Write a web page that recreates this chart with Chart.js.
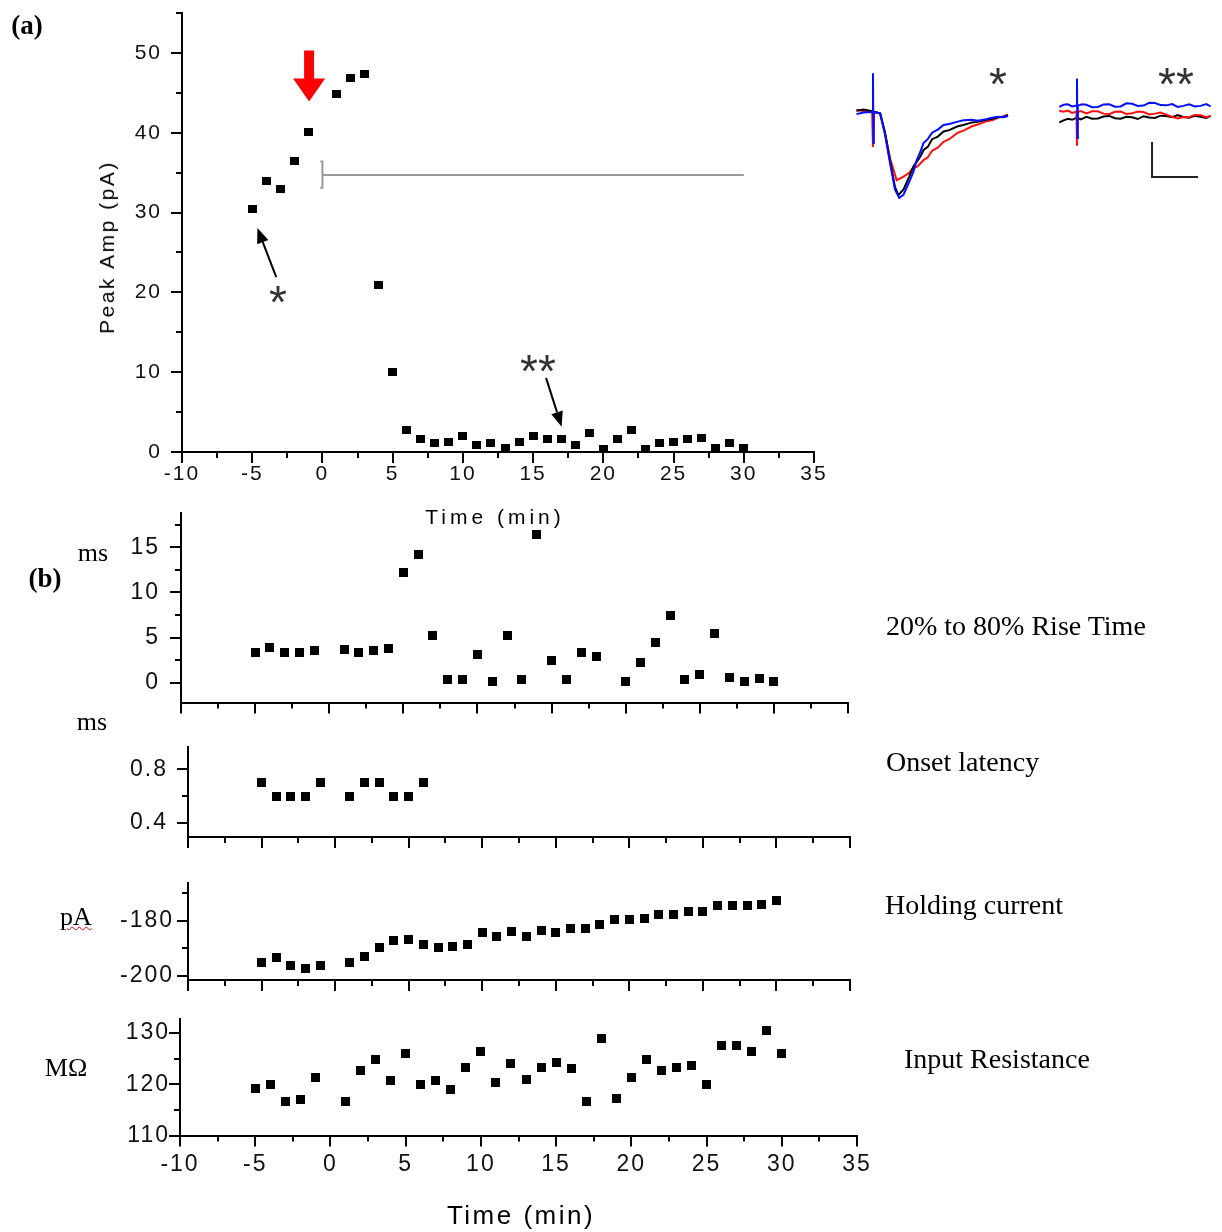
<!DOCTYPE html>
<html>
<head>
<meta charset="utf-8">
<script src="https://cdn.jsdelivr.net/npm/chart.js@4.4.0/dist/chart.umd.min.js"></script>
<style>
  body { margin: 0; background: #fff; }
  #page { position: relative; width: 1222px; height: 1232px; overflow: hidden; background: #fff; }
  #page canvas.full { position: absolute; left: 0; top: -60px; }
  #page canvas.inset { position: absolute; }
  .txt { position: absolute; white-space: nowrap; color: #000; transform: translate(-50%, -50%); }
  .serif { font-family: "Liberation Serif", "Times New Roman", serif; font-size: 26px; }
  .side { transform: translate(0, -50%); font-size: 28px; }
  .sans { font-family: "Liberation Sans", Arial, sans-serif; }
  .star { font-family: "Liberation Sans", Arial, sans-serif; font-size: 46px; color: #333; }
</style>
</head>
<body>
<div id="page">
  <canvas class="full" id="chartA" width="1222" height="1292"></canvas>
  <canvas class="full" id="chartRise" width="1222" height="1292"></canvas>
  <canvas class="full" id="chartOnset" width="1222" height="1292"></canvas>
  <canvas class="full" id="chartHold" width="1222" height="1292"></canvas>
  <canvas class="full" id="chartRes" width="1222" height="1292"></canvas>
  <canvas class="inset" id="trace1" width="157" height="135" style="left:855px;top:70px"></canvas>
  <canvas class="inset" id="trace2" width="157" height="135" style="left:1055px;top:70px"></canvas>

  <div class="txt serif" style="left:27px;top:25px;font-weight:bold;font-size:27px">(a)</div>
  <div class="txt serif" style="left:45px;top:578px;font-weight:bold;font-size:27px">(b)</div>

  <div class="txt sans" style="left:107px;top:247px;font-size:21px;letter-spacing:2.5px;transform:translate(-50%,-50%) rotate(-90deg)">Peak Amp (pA)</div>
  <div class="txt sans" style="left:495px;top:517px;font-size:21px;letter-spacing:4px">Time (min)</div>
  <div class="txt sans" style="left:521px;top:1215px;font-size:26px;letter-spacing:2.5px">Time (min)</div>

  <div class="txt serif" style="left:93px;top:553px">ms</div>
  <div class="txt serif" style="left:92px;top:722px">ms</div>
  <div class="txt serif" style="left:76px;top:917px;text-decoration:underline wavy #e00000;text-decoration-thickness:1px">pA</div>
  <div class="txt serif" style="left:66px;top:1068px">MΩ</div>

  <div class="txt serif side" style="left:886px;top:626px">20% to 80% Rise Time</div>
  <div class="txt serif side" style="left:886px;top:762px">Onset latency</div>
  <div class="txt serif side" style="left:885px;top:905px">Holding current</div>
  <div class="txt serif side" style="left:904px;top:1059px">Input Resistance</div>

  <div class="txt star" style="left:278px;top:302px">*</div>
  <div class="txt star" style="left:538px;top:371px">**</div>
  <div class="txt star" style="left:998px;top:84px">*</div>
  <div class="txt star" style="left:1176px;top:84px">**</div>
</div>

<script>
// ---- data ----
// (a) peak amplitude
const timeA = [-5, -4, -3, -2, -1, 1, 2, 3, 4, 5, 6, 7, 8, 9, 10, 11, 12, 13, 14, 15,
               16, 17, 18, 19, 20, 21, 22, 23, 24, 25, 26, 27, 28, 29, 30];
const peakAmp = [30.5, 33.9, 33.0, 36.5, 40.1, 44.9, 46.8, 47.3, 20.9, 10.0, 2.75, 1.57, 1.1, 1.3, 2.0,
                 0.85, 1.15, 0.5, 1.3, 2.0, 1.57, 1.57, 0.85, 2.4, 0.4, 1.57, 2.75, 0.4, 1.1, 1.3,
                 1.57, 1.8, 0.5, 1.1, 0.5];

// (b) rise time, no point at 19 min
const timeRise = [-5, -4, -3, -2, -1, 1, 2, 3, 4, 5, 6, 7, 8, 9, 10, 11, 12, 13, 14, 15, 16, 17, 18,
                  20, 21, 22, 23, 24, 25, 26, 27, 28, 29, 30];
const riseTime = [3.36, 3.9, 3.36, 3.36, 3.55, 3.7, 3.36, 3.55, 3.77, 12.2, 14.2, 5.28, 0.3, 0.3, 3.07,
                  0.18, 5.28, 0.3, 16.4, 2.5, 0.4, 3.36, 2.9, 0.18, 2.2, 4.5, 7.4, 0.4, 0.9, 5.4,
                  0.6, 0.18, 0.5, 0.18];

const timeOnset = [-5, -4, -3, -2, -1, 1, 2, 3, 4, 5, 6];
const onsetLatency = [0.7, 0.6, 0.6, 0.6, 0.7, 0.6, 0.7, 0.7, 0.6, 0.6, 0.7];

const timeB = [-5, -4, -3, -2, -1, 1, 2, 3, 4, 5, 6, 7, 8, 9, 10, 11, 12, 13, 14, 15,
               16, 17, 18, 19, 20, 21, 22, 23, 24, 25, 26, 27, 28, 29, 30];
const holdingCurrent = [-195.2, -193.5, -196.3, -197.4, -196.3, -195.2, -193.2, -189.7, -187.1, -186.7,
                        -188.6, -189.7, -189.5, -188.6, -184.2, -185.8, -184.0, -185.8, -183.7, -184.2,
                        -183.0, -182.8, -181.5, -179.6, -179.6, -179.4, -177.7, -177.7, -176.8, -176.8,
                        -174.6, -174.6, -174.6, -174.3, -172.7];
const inputResistance = [119.2, 120.0, 116.6, 117.0, 121.4, 116.6, 122.6, 124.9, 120.8, 126.0,
                         119.9, 120.8, 118.9, 123.2, 126.3, 120.4, 124.0, 121.0, 123.2, 124.2,
                         123.0, 116.6, 128.9, 117.3, 121.4, 124.8, 122.6, 123.2, 123.7, 119.9,
                         127.5, 127.5, 126.3, 130.5, 126.0];

// tick labels
const timeTicks = [-10, -5, 0, 5, 10, 15, 20, 25, 30, 35];
const peakTicks = [0, 10, 20, 30, 40, 50];
const riseTicks = [0, 5, 10, 15];
const onsetTicks = [0.4, 0.8];
const holdTicks = [-200, -180];
const resTicks = [110, 120, 130];

// grey bracket in (a): [time, pA]
const bracketCap = [[-0.15, 36.4], [0, 36.4], [0, 33.1], [-0.15, 33.1]];
const bracketLine = [[0, 34.7], [30, 34.7]];

// sample traces of the inset: [ms, pA]
const trace1Black = [[0.5, 0.5], [3, 1], [6, 0.3], [8.8, -0.5], [10.5, -8], [12.3, -19], [14, -29], [15.2, -32.2],
  [17, -30], [19, -25], [20.5, -21], [21.5, -19.5], [23, -17], [24, -14.7], [25.5, -13.5], [27, -10.5], [29, -9.5],
  [31, -7.5], [33, -7], [36, -5.5], [38, -5], [41, -4], [43, -3.8], [46, -3], [48, -2.6], [50, -2], [52, -1.9], [53.6, -1.2]];
const trace1Red = [[0.5, 0.8], [3, 0.4], [6, -0.2], [6.3, -13.5], [6.6, 0], [8.8, -0.6], [10.5, -8], [12.3, -18],
  [14.6, -26.4], [17, -25], [19, -23.5], [20, -22], [22, -21], [24, -18.6], [25.5, -17.5], [27, -15], [29, -13.8],
  [31, -11.5], [33, -10.5], [36, -8], [38, -7.2], [41, -5.5], [43, -4.8], [46, -3.6], [48, -3.2], [50, -2.2],
  [52, -1.6], [53.6, -1]];
const trace1Blue = [[0.5, -0.8], [3, -0.2], [6, 0], [6.3, 15], [6.45, -12], [6.6, 0], [8.8, -0.5], [10.5, -8.5],
  [12.3, -20], [14, -30], [15.5, -33.3], [17, -32], [19, -27], [20.5, -23], [21.5, -19], [23, -15], [24, -12],
  [25.5, -10.5], [27, -8], [29, -6.8], [31, -5], [33, -4.6], [36, -3.7], [38, -3.2], [41, -3], [43, -3.4],
  [46, -2.8], [48, -2.2], [50, -1.8], [52, -2], [53.6, -1.5]];
const trace2Black = [[1.5, -4], [3, -3.2], [4.5, -2.6], [6, -3], [7.5, -2.2], [9, -2.8], [11, -1.8], [13, -2.6],
  [15, -2.5], [17, -1.7], [19, -1.5], [21, -2.4], [23, -2.6], [25, -1.8], [27, -2], [29, -2.7], [31, -1.6],
  [33, -2.1], [35, -2.3], [37, -1.4], [39, -1.5], [41, -2], [43, -1.2], [45, -1.9], [47, -2.2], [49, -1.4],
  [51, -1.8], [53, -2.3], [54.5, -1.5]];
const trace2Red = [[1.5, 0.5], [3, 0.1], [4.5, 0.6], [6, -0.3], [7.5, 0.2], [7.7, -13], [7.9, 0], [9, 0.4],
  [11, -0.5], [13, 0.3], [15, 0.3], [17, -0.6], [19, -0.8], [21, 0.1], [23, 0.2], [25, -0.7], [27, -0.5],
  [29, 0.2], [31, 0], [33, -0.9], [35, -0.6], [37, -0.2], [39, -1], [41, -1.8], [43, -2.5], [45, -1.9],
  [47, -2], [49, -1.1], [51, -1.2], [53, -2], [54.5, -1.5]];
const trace2Blue = [[1.5, 2], [3, 2.8], [4.5, 3], [6, 2.2], [7.5, 2.5], [7.7, 13], [7.85, -10], [8, 2.5],
  [9.5, 3], [11, 2.8], [13, 1.9], [15, 2], [17, 2.9], [19, 3], [21, 2.1], [23, 2.2], [25, 3.4], [27, 3.2],
  [29, 2.4], [31, 2.5], [33, 3.6], [35, 3.5], [37, 2.7], [39, 2.6], [41, 3.1], [43, 2], [45, 2.4], [47, 3],
  [49, 2.2], [51, 2.4], [53, 3.1], [54.5, 2.2]];
const scaleBar = [[34, -11.6], [34, -25.2], [50.1, -25.2]];

// ---- helpers ----
const W = 1222, H = 1232, OFF = 60;   // chart canvases start OFF px above the page

function pts(xs, ys) { return xs.map((x, i) => ({x: x, y: ys[i]})); }
function pairs(list) { return list.map(p => ({x: p[0], y: p[1]})); }

// filled rectangle used as the point marker
function marker(w, h) {
    const c = document.createElement("canvas");
    c.width = w; c.height = h;
    const g = c.getContext("2d");
    g.fillStyle = "#000";
    g.fillRect(0, 0, w, h);
    return c;
}

// short outward ticks, long on majors and short on minors
const axisTicks = {
    id: "axisTicks",
    afterDraw(chart, args, opts) {
        if (!opts.xMinor) return;
        const {ctx, chartArea: a, scales: {x, y}} = chart;
        ctx.save();
        ctx.strokeStyle = "#000";
        ctx.lineWidth = 2;
        ctx.beginPath();
        const nx = Math.round((x.max - x.min) / opts.xMinor);
        for (let i = 0; i <= nx; i++) {
            const v = x.min + i * opts.xMinor;
            const major = Math.abs(v / opts.xMajor - Math.round(v / opts.xMajor)) < 1e-6;
            const px = Math.round(x.getPixelForValue(v));
            ctx.moveTo(px, a.bottom);
            ctx.lineTo(px, a.bottom + (major ? 11 : 6));
        }
        const start = Math.ceil(y.min / opts.yMinor - 1e-6);
        const end = Math.floor(y.max / opts.yMinor + 1e-6);
        for (let k = start; k <= end; k++) {
            const v = k * opts.yMinor;
            const major = Math.abs(v / opts.yMajor - Math.round(v / opts.yMajor)) < 1e-6;
            const py = Math.round(y.getPixelForValue(v));
            ctx.moveTo(a.left, py);
            ctx.lineTo(a.left - (major ? 11 : 6), py);
        }
        ctx.stroke();
        ctx.restore();
    }
};

// the tick labels of the original are spaced out a little
const spacing = {
    id: "spacing",
    beforeDraw(chart, args, opts) { chart.ctx.letterSpacing = (opts.px || 0) + "px"; },
    afterDraw(chart) { chart.ctx.letterSpacing = "0px"; }
};

// arrows of panel (a), given in data units
const arrowsA = {
    id: "arrowsA",
    afterDatasetsDraw(chart, args, opts) {
        if (!opts.on) return;
        const {ctx, scales: {x, y}} = chart;
        ctx.save();

        // red arrow
        const cx = x.getPixelForValue(-0.95);
        const yTop = y.getPixelForValue(50.3), yBase = y.getPixelForValue(46.8), yTip = y.getPixelForValue(43.9);
        ctx.fillStyle = "#ff0000";
        ctx.beginPath();
        ctx.moveTo(cx - 5, yTop);
        ctx.lineTo(cx + 5, yTop);
        ctx.lineTo(cx + 5, yBase);
        ctx.lineTo(cx + 16, yBase);
        ctx.lineTo(cx, yTip);
        ctx.lineTo(cx - 16, yBase);
        ctx.lineTo(cx - 5, yBase);
        ctx.closePath();
        ctx.fill();

        // black pointer arrows
        function pointer(x0, y0, x1, y1) {
            const ax = x.getPixelForValue(x0), ay = y.getPixelForValue(y0);
            const bx = x.getPixelForValue(x1), by = y.getPixelForValue(y1);
            const ang = Math.atan2(by - ay, bx - ax);
            const len = 15, half = 6;
            const hx = bx - len * Math.cos(ang), hy = by - len * Math.sin(ang);
            ctx.strokeStyle = "#000";
            ctx.lineWidth = 2;
            ctx.beginPath();
            ctx.moveTo(ax, ay);
            ctx.lineTo(hx, hy);
            ctx.stroke();
            ctx.fillStyle = "#000";
            ctx.beginPath();
            ctx.moveTo(bx, by);
            ctx.lineTo(hx + half * Math.sin(ang), hy - half * Math.cos(ang));
            ctx.lineTo(hx - half * Math.sin(ang), hy + half * Math.cos(ang));
            ctx.closePath();
            ctx.fill();
        }
        pointer(-3.29, 21.9, -4.63, 28.06);
        pointer(15.92, 9.28, 17.03, 3.17);
        ctx.restore();
    }
};

Chart.register(axisTicks, spacing, arrowsA);

// one scatter panel, its plot area given in page pixels
function panel(id, area, o) {
    const tickFont = {family: "'Liberation Sans', Arial, sans-serif", size: o.fontSize};
    return new Chart(document.getElementById(id), {
        type: "scatter",
        data: {datasets: o.datasets},
        options: {
            responsive: false,
            animation: false,
            devicePixelRatio: 1,
            layout: {padding: {top: area.t + OFF, right: W - area.r, left: 0, bottom: 0}},
            plugins: {
                legend: {display: false},
                tooltip: {enabled: false},
                axisTicks: {xMajor: 5, xMinor: 2.5, yMajor: o.yMajor, yMinor: o.yMinor},
                spacing: {px: 2},
                arrowsA: {on: !!o.arrows}
            },
            scales: {
                x: {
                    type: "linear", min: -10, max: 35,
                    afterBuildTicks: s => { s.ticks = timeTicks.map(v => ({value: v})); },
                    afterFit: s => { s.height = H - area.b; },
                    grid: {display: false, drawTicks: false},
                    border: {display: true, color: "#000", width: 2},
                    ticks: {display: o.xLabels, autoSkip: false, maxRotation: 0, padding: o.xPad,
                            color: "#111", font: tickFont}
                },
                y: {
                    type: "linear", min: o.yMin, max: o.yMax,
                    afterBuildTicks: s => { s.ticks = o.yTicks.map(v => ({value: v})); },
                    afterFit: s => { s.width = area.l; },
                    grid: {display: false, drawTicks: false},
                    border: {display: true, color: "#000", width: 2},
                    ticks: {padding: o.yPad, color: "#111", font: tickFont,
                            callback: o.fmt || (v => v)}
                }
            }
        }
    });
}

const squareA = marker(9, 8);
const squareB = marker(9, 9);

function dots(data, m) {
    return {data: data, pointStyle: m, pointRadius: 5, backgroundColor: "#000", borderColor: "#000", showLine: false};
}

panel("chartA", {l: 182, r: 814, t: 13, b: 452}, {
    datasets: [
        dots(pts(timeA, peakAmp), squareA),
        {data: pairs(bracketCap), showLine: true, borderColor: "#9a9a9a", borderWidth: 2, pointRadius: 0, fill: false},
        {data: pairs(bracketLine), showLine: true, borderColor: "#9a9a9a", borderWidth: 2, pointRadius: 0, fill: false}
    ],
    yMin: 0, yMax: 55, yTicks: peakTicks, yMajor: 10, yMinor: 5,
    fontSize: 21, xLabels: true, xPad: 10, yPad: 20, arrows: true
});

panel("chartRise", {l: 181, r: 848, t: 513, b: 702.5}, {
    datasets: [dots(pts(timeRise, riseTime), squareB)],
    yMin: -2.2, yMax: 18.8, yTicks: riseTicks, yMajor: 5, yMinor: 2.5,
    fontSize: 23, xLabels: false, xPad: 10, yPad: 21
});

panel("chartOnset", {l: 188, r: 850, t: 747, b: 837}, {
    datasets: [dots(pts(timeOnset, onsetLatency), squareB)],
    yMin: 0.295, yMax: 0.967, yTicks: onsetTicks, yMajor: 0.4, yMinor: 0.2,
    fontSize: 23, xLabels: false, xPad: 10, yPad: 20, fmt: v => v.toFixed(1)
});

panel("chartHold", {l: 188, r: 850, t: 883, b: 980}, {
    datasets: [dots(pts(timeB, holdingCurrent), squareB)],
    yMin: -201.6, yMax: -166.3, yTicks: holdTicks, yMajor: 20, yMinor: 10,
    fontSize: 23, xLabels: false, xPad: 10, yPad: 14
});

panel("chartRes", {l: 180, r: 857, t: 1018.5, b: 1135.5}, {
    datasets: [dots(pts(timeB, inputResistance), squareB)],
    yMin: 110, yMax: 132.8, yTicks: resTicks, yMajor: 10, yMinor: 5,
    fontSize: 23, xLabels: true, xPad: 15, yPad: 10
});

// inset traces, no axes
function trace(id, lines) {
    return new Chart(document.getElementById(id), {
        type: "scatter",
        data: {
            datasets: lines.map(l => ({
                data: pairs(l.d), showLine: true, borderColor: l.c, borderWidth: l.w || 2,
                pointRadius: 0, fill: false, clip: false
            }))
        },
        options: {
            responsive: false, animation: false, devicePixelRatio: 1,
            layout: {padding: 0},
            plugins: {legend: {display: false}, tooltip: {enabled: false}},
            scales: {
                x: {type: "linear", min: 0, max: 55, display: false},
                y: {type: "linear", min: -36, max: 16.3, display: false}
            }
        }
    });
}

// first dataset is drawn on top
trace("trace1", [
    {d: trace1Blue, c: "#0010ff"},
    {d: trace1Black, c: "#000"},
    {d: trace1Red, c: "#ff1010"}
]);
trace("trace2", [
    {d: scaleBar, c: "#222"},
    {d: trace2Blue, c: "#0010ff"},
    {d: trace2Red, c: "#ff1010"},
    {d: trace2Black, c: "#000"}
]);
</script>
</body>
</html>
